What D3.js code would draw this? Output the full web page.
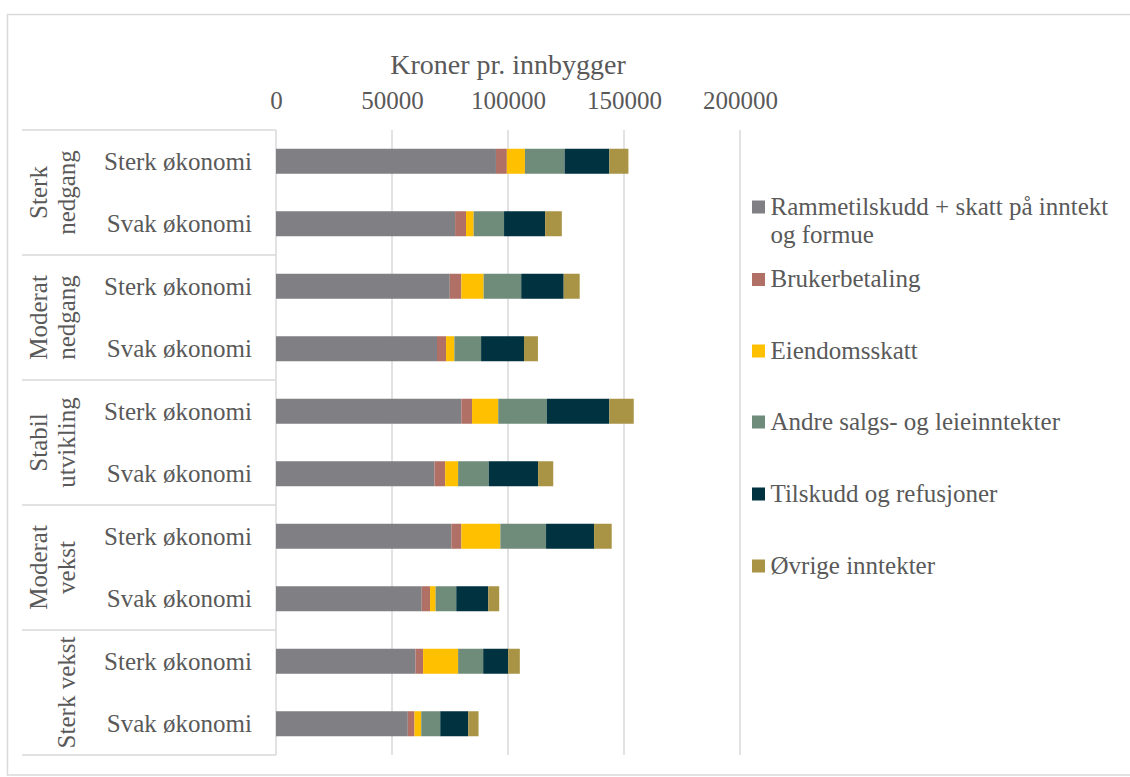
<!DOCTYPE html>
<html>
<head>
<meta charset="utf-8">
<script src="https://cdn.jsdelivr.net/npm/d3@7"></script>
<style>
  body { margin: 0; background: #fff; }
  text { font-family: "Liberation Serif", serif; fill: #595959; }
</style>
</head>
<body>
<svg width="1130" height="777"></svg>
<script>
var groups = [["Sterk", "nedgang"], ["Moderat", "nedgang"], ["Stabil", "utvikling"], ["Moderat", "vekst"], ["Sterk vekst"]];
var economies = ["Sterk økonomi", "Svak økonomi"];
var seriesNames = ["Rammetilskudd + skatt på inntekt og formue", "Brukerbetaling", "Eiendomsskatt",
    "Andre salgs- og leieinntekter", "Tilskudd og refusjoner", "Øvrige inntekter"];
var colors = ["#807f84", "#b07066", "#ffc000", "#6f8c7b", "#013240", "#a99445"];

// one value per row: group x economy, top to bottom
var ramme    = [94800, 77200, 74900, 69400, 79900, 68300, 75600, 62800, 60100, 56800];
var bruker   = [4700, 4700, 5000, 3900, 4600, 4600, 4300, 3600, 3300, 2900];
var eiendom  = [7800, 3300, 9600, 3600, 11300, 5600, 16800, 2400, 15100, 2900];
var andre    = [17100, 13100, 16200, 11500, 21000, 13200, 19700, 8900, 10800, 8200];
var tilskudd = [19300, 17700, 18300, 18500, 26900, 21300, 20700, 13800, 10800, 12100];
var ovrige   = [8200, 7200, 6900, 6000, 10500, 6500, 7600, 4700, 5000, 4400];
var ticks = [0, 50000, 100000, 150000, 200000];

var svg = d3.select("svg");
var grid = "#d9d9d9";

// chart border
svg.append("rect")
    .attr("x", 7.5).attr("y", 14.5)
    .attr("width", 1140).attr("height", 760.5)
    .attr("fill", "none").attr("stroke", grid).attr("stroke-width", 1.5);

var rows = [];
groups.forEach((g, gi) => economies.forEach(e => rows.push(gi + "|" + e)));

var table = rows.map((r, i) => ({
    row: r,
    vals: [ramme[i], bruker[i], eiendom[i], andre[i], tilskudd[i], ovrige[i]]
}));

var plotTop = 130, plotBottom = 755;
var x = d3.scaleLinear().domain([0, 200000]).range([276, 740]);
var y = d3.scaleBand().domain(rows).range([plotTop, plotBottom]).paddingInner(0.6).paddingOuter(0.3);

// gridlines
svg.append("g").selectAll("line")
    .data(ticks.slice(1))
    .join("line")
    .attr("x1", d => x(d)).attr("x2", d => x(d))
    .attr("y1", plotTop).attr("y2", plotBottom)
    .attr("stroke", grid).attr("stroke-width", 1.5);

// axis line + category table lines
svg.append("line")
    .attr("x1", x(0)).attr("x2", x(0)).attr("y1", plotTop).attr("y2", plotBottom)
    .attr("stroke", grid).attr("stroke-width", 1.5);

var groupH = (plotBottom - plotTop) / groups.length;
svg.append("g").selectAll("line")
    .data(d3.range(groups.length + 1))
    .join("line")
    .attr("x1", 22).attr("x2", x(0))
    .attr("y1", d => plotTop + d * groupH).attr("y2", d => plotTop + d * groupH)
    .attr("stroke", grid).attr("stroke-width", 1.5);

// stacked bars
var stack = d3.stack()
    .keys(d3.range(seriesNames.length))
    .value((d, k) => d.vals[k]);
var layers = stack(table);

svg.append("g").selectAll("g")
    .data(layers)
    .join("g")
    .attr("fill", (d, i) => colors[i])
    .selectAll("rect")
    .data(d => d)
    .join("rect")
    .attr("x", d => x(d[0]))
    .attr("width", d => x(d[1]) - x(d[0]))
    .attr("y", d => y(d.data.row))
    .attr("height", y.bandwidth());

// top axis
var axis = svg.append("g")
    .attr("transform", "translate(0,109)")
    .call(d3.axisTop(x).tickValues(ticks).tickSize(0).tickPadding(0).tickFormat(d3.format("d")));
axis.select(".domain").remove();
axis.selectAll("text")
    .style("font-family", "Liberation Serif, serif")
    .style("font-size", "25px")
    .attr("fill", "#595959");

svg.append("text")
    .attr("x", (x(0) + x(200000)) / 2).attr("y", 74)
    .attr("text-anchor", "middle")
    .style("font-size", "28px")
    .text("Kroner pr. innbygger");

// row labels
svg.append("g").selectAll("text")
    .data(rows)
    .join("text")
    .attr("x", 252)
    .attr("y", d => y(d) + y.bandwidth() / 2 + 8.5)
    .attr("text-anchor", "end")
    .style("font-size", "25px")
    .text(d => d.split("|")[1]);

// group labels, rotated
var gl = svg.append("g").selectAll("g")
    .data(groups)
    .join("g");
gl.each(function(lines, gi) {
    var cy = plotTop + (gi + 0.5) * groupH;
    var xs = lines.length == 2 ? [47, 75] : [75];
    lines.forEach((t, li) => {
        d3.select(this).append("text")
            .attr("transform", "translate(" + xs[li] + "," + cy + ") rotate(-90)")
            .attr("text-anchor", "middle")
            .style("font-size", "25px")
            .text(t);
    });
});

// legend
var legendY = [207, 279.5, 351, 422, 494, 566];
var legend = svg.append("g").selectAll("g")
    .data(seriesNames)
    .join("g")
    .attr("transform", (d, i) => "translate(752," + legendY[i] + ")");
legend.append("rect")
    .attr("x", 0).attr("y", -6.5)
    .attr("width", 13).attr("height", 13)
    .attr("fill", (d, i) => colors[i]);
legend.each(function(d, i) {
    var txt = d3.select(this).append("text")
        .attr("x", 18.5).attr("y", 7.5)
        .style("font-size", "25px");
    if (i == 0) {
        txt.append("tspan").attr("x", 18.5).text("Rammetilskudd + skatt på inntekt");
        txt.append("tspan").attr("x", 18.5).attr("dy", 28).text("og formue");
    } else {
        txt.text(d);
    }
});
</script>
</body>
</html>
